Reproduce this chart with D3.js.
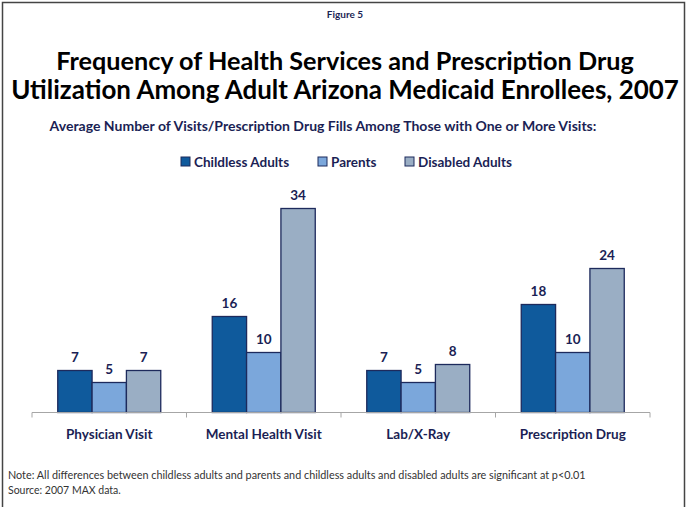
<!DOCTYPE html>
<html>
<head>
<meta charset="utf-8">
<script src="https://cdn.jsdelivr.net/npm/d3@7"></script>
<style>
  html, body { margin: 0; padding: 0; background: #fff; }
  svg { display: block; font-family: Lato, "Open Sans", sans-serif; }
</style>
</head>
<body>
<svg id="chart" width="687" height="507"></svg>
<script>
// Average visits / prescription fills per enrollee with at least one visit
const categories = ["Physician Visit", "Mental Health Visit", "Lab/X-Ray", "Prescription Drug"];
const seriesNames = ["Childless Adults", "Parents", "Disabled Adults"];
const childlessAdults = [7, 16, 7, 18];
const parents = [5, 10, 5, 10];
const disabledAdults = [7, 34, 8, 24];
const seriesColors = ["#0f5a9c", "#7ba7db", "#9aaec4"];

const figureLabel = "Figure 5";
const titleLines = [
  "Frequency of Health Services and Prescription Drug",
  "Utilization Among Adult Arizona Medicaid Enrollees, 2007"
];
const subtitle = "Average Number of Visits/Prescription Drug Fills Among Those with One or More Visits:";
const notes = [
  "Note: All differences between childless  adults and parents and childless adults and disabled adults are significant at p<0.01",
  "Source: 2007 MAX data."
];

const seriesValues = [childlessAdults, parents, disabledAdults];
const navy = "#1b1f55";
const outline = "#1d2a5c";

const svg = d3.select("#chart");

// size a text element's font so that its run spans the given width
function fitWidth(sel, width) {
  const base = +sel.attr("font-size");
  const w = sel.node().getComputedTextLength();
  sel.attr("font-size", (base * width / w).toFixed(2));
  return sel;
}

// page frame
svg.append("path")
  .attr("d", "M2.5,520 V2.5 H684.5 V520")
  .attr("fill", "none")
  .attr("stroke", "#444")
  .attr("stroke-width", 1.5);

// headings
svg.append("text")
  .attr("x", 345).attr("y", 18)
  .attr("text-anchor", "middle")
  .attr("font-size", 10).attr("font-weight", 700)
  .attr("fill", navy)
  .text(figureLabel);

const titleWidths = [578, 668];
titleLines.forEach((t, i) => {
  const el = svg.append("text")
    .attr("x", 345).attr("y", 70 + i * 29)
    .attr("text-anchor", "middle")
    .attr("font-size", 26).attr("font-weight", 700)
    .attr("fill", "#000")
    .text(t);
  fitWidth(el, titleWidths[i]);
});

fitWidth(svg.append("text")
  .attr("x", 323).attr("y", 131)
  .attr("text-anchor", "middle")
  .attr("font-size", 11.5).attr("font-weight", 700)
  .attr("fill", navy)
  .text(subtitle), 547);

// legend
const legendX = [181, 318, 405];
const legend = svg.append("g");
seriesNames.forEach((name, i) => {
  const g = legend.append("g").attr("transform", `translate(${legendX[i]},157)`);
  g.append("rect")
    .attr("width", 9).attr("height", 9)
    .attr("fill", seriesColors[i])
    .attr("stroke", outline).attr("stroke-width", 1);
  g.append("text")
    .attr("x", 13).attr("y", 9.5)
    .attr("font-size", 13.5).attr("font-weight", 700)
    .attr("fill", navy)
    .text(name);
});

// scales
const x0 = d3.scaleBand().domain(categories).range([32, 650]).paddingInner(0).paddingOuter(0);
const x1 = d3.scaleBand().domain(seriesNames).range([0, x0.bandwidth()]).paddingInner(0).paddingOuter(0.75);
const y = d3.scaleLinear().domain([0, 35]).range([412.5, 202.5]);

// bars
const groups = svg.append("g").selectAll("g")
  .data(categories)
  .join("g")
  .attr("transform", d => `translate(${x0(d)},0)`);

groups.selectAll("rect")
  .data((c, ci) => seriesNames.map((s, si) => ({ s, v: seriesValues[si][ci], si })))
  .join("rect")
  .attr("x", d => x1(d.s))
  .attr("y", d => y(d.v))
  .attr("width", x1.bandwidth())
  .attr("height", d => y(0) - y(d.v))
  .attr("fill", d => seriesColors[d.si])
  .attr("stroke", outline)
  .attr("stroke-width", 1.3);

groups.selectAll("text.val")
  .data((c, ci) => seriesNames.map((s, si) => ({ s, v: seriesValues[si][ci], si })))
  .join("text")
  .attr("class", "val")
  .attr("x", d => x1(d.s) + x1.bandwidth() / 2)
  .attr("y", d => y(d.v) - 9)
  .attr("text-anchor", "middle")
  .attr("font-size", 13.5).attr("font-weight", 700)
  .attr("fill", navy)
  .text(d => d.v);

// category axis
const axis = svg.append("g").attr("transform", `translate(0,${y(0)})`);
axis.append("line")
  .attr("x1", 32).attr("x2", 650)
  .attr("stroke", "#a6a6a6").attr("stroke-width", 1);
const boundaries = categories.map(c => x0(c)).concat([x0.range()[1]]);
axis.selectAll("line.tick")
  .data(boundaries)
  .join("line")
  .attr("class", "tick")
  .attr("x1", d => d).attr("x2", d => d)
  .attr("y1", 0).attr("y2", 5)
  .attr("stroke", "#a6a6a6").attr("stroke-width", 1);
axis.selectAll("text")
  .data(categories)
  .join("text")
  .attr("x", d => x0(d) + x0.bandwidth() / 2)
  .attr("y", 26)
  .attr("text-anchor", "middle")
  .attr("font-size", 13.5).attr("font-weight", 700)
  .attr("fill", navy)
  .text(d => d);

// footnotes
notes.forEach((n, i) => {
  const t = svg.append("text")
    .attr("x", 8).attr("y", 479 + i * 15)
    .attr("font-size", 10.5)
    .attr("fill", "#333")
    .text(n);
  if (i === 0) fitWidth(t, 578);
});
</script>
</body>
</html>
